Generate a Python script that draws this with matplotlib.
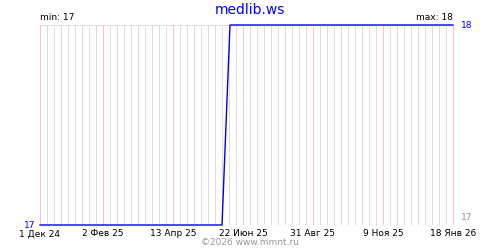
import matplotlib
matplotlib.use("Agg")
import matplotlib.pyplot as plt
import numpy as np

# series
dates = np.array(["2024-12-01", "2025-06-01", "2025-06-09", "2026-01-18"], dtype="datetime64[D]")
values = [17, 17, 18, 18]

tick_dates = np.array(["2024-12-01", "2025-02-02", "2025-04-13", "2025-06-22",
                       "2025-08-31", "2025-11-09", "2026-01-18"], dtype="datetime64[D]")
tick_labels = ["1 Дек 24", "2 Фев 25", "13 Апр 25", "22 Июн 25",
               "31 Авг 25", "9 Ноя 25", "18 Янв 26"]
week_dates = np.arange(np.datetime64("2024-12-01"), np.datetime64("2026-01-19"), 7)

title = "medlib.ws"
y_min, y_max = 17, 18

BLUE = "#0000FF"
GRID = "#DDDDDD"
PINK = "#FFC0C0"

fig = plt.figure(figsize=(5, 2.5), dpi=100)
# 413 days over 413 px, so one day is one pixel column
ax = fig.add_axes([40 / 500, 25 / 250, 413 / 500, 200 / 250])
ax.set_xlim(dates[0], dates[-1])
ax.set_ylim(y_min, y_max)

# gridlines as one-day-wide bars, so each fills exactly one pixel column
plain_weeks = np.setdiff1d(week_dates, tick_dates)
ax.bar(plain_weeks, y_max - y_min, bottom=y_min, width=1, align="edge",
       color=GRID, lw=0, antialiased=False, zorder=1, clip_on=False)
ax.bar(tick_dates, y_max - y_min, bottom=y_min, width=1, align="edge",
       color=PINK, lw=0, antialiased=False, zorder=2, clip_on=False)
ax.hlines([y_min, y_max], dates[0], dates[-1], color=GRID, lw=0.72, zorder=1)

ax.plot(dates, values, color=BLUE, lw=1.0, zorder=3, clip_on=False)

ax.set_xticks(tick_dates, tick_labels)
ax.tick_params(axis="x", length=0, pad=3, labelsize=6.5)
ax.set_yticks([])
for s in ax.spines.values():
    s.set_visible(False)

ax.text(0.0, 1.015, f"min: {y_min}", transform=ax.transAxes, fontsize=6.5,
        ha="left", va="bottom")
ax.text(1.0, 1.015, f"max: {y_max}", transform=ax.transAxes, fontsize=6.5,
        ha="right", va="bottom")
ax.text(-0.012, 0.0, str(y_min), transform=ax.transAxes, fontsize=6.5,
        color=BLUE, ha="right", va="center")
ax.text(1.02, 1.0, str(y_max), transform=ax.transAxes, fontsize=6.5,
        color=BLUE, ha="left", va="center")
ax.text(1.02, 0.035, str(y_min), transform=ax.transAxes, fontsize=6.5,
        color="#999999", ha="left", va="center")

fig.text(0.5, 0.96, title, color=BLUE, fontsize=10, ha="center", va="center")
fig.text(0.5, 0.03, "©2026 www.mmnt.ru", color="#999999", fontsize=6.5,
         ha="center", va="center")

fig.savefig("out.png", dpi=100)
